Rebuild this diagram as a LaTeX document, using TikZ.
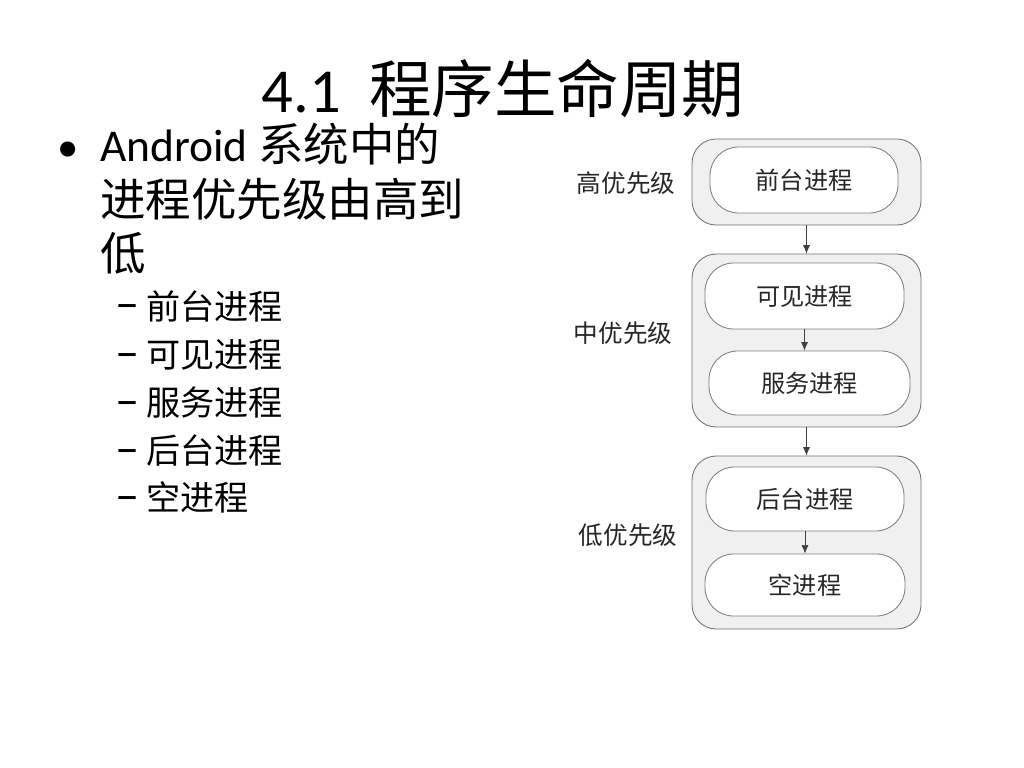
\documentclass[tikz,border=0pt]{standalone}
\usepackage{fontspec}
\setmainfont{Carlito}
\newfontfamily\cjk{Noto Sans CJK SC}
\usetikzlibrary{arrows.meta}
\begin{document}
\begin{tikzpicture}[x=0.703125pt,y=-0.703125pt,
  outerbox/.style={draw=black!55,fill=black!6,line width=0.6pt,rounded corners=17pt,minimum width=161pt,inner sep=0pt},
  innerbox/.style={draw=black!50,fill=white,line width=0.6pt,rounded corners=20pt,inner sep=0pt,font=\cjk\fontsize{17}{20}\selectfont,text=black!85},
  lvl/.style={font=\cjk\fontsize{17.3}{20}\selectfont,text=black!85},
  flow/.style={draw=black!75,line width=0.5pt,-{Latex[length=6pt,width=5pt]}},
  maintext/.style={anchor=base west,inner sep=0pt,font=\fontsize{32}{38.4}\selectfont},
  subtext/.style={anchor=base west,inner sep=0pt,font=\fontsize{28}{33.6}\selectfont},
  dashmark/.style={anchor=base west,inner sep=0pt,font=\fontsize{34}{40}\selectfont},
  title/.style={anchor=base,inner sep=0pt,font=\fontsize{44}{52.8}\selectfont}]
\useasboundingbox[fill=white] (0,0) rectangle (1024,768);
% title
\node[title] (t) at (503,113) {4.1\ \ {\cjk 程序生命周期}};
% bullets
\node[anchor=base,inner sep=0pt,font=\fontsize{30}{36}\selectfont] (b1) at (68,162) {•};
\node[maintext] (l1) at (100,162) {Android {\cjk 系统中的}};
\node[maintext] (l2) at (100,217) {\cjk 进程优先级由高到};
\node[maintext] (l3) at (100,271) {\cjk 低};
\node[dashmark] (d1) at (115,320) {–};
\node[subtext] (s1) at (146,319) {\cjk\fontsize{24}{28}\selectfont 前台进程};
\node[dashmark] (d2) at (115,368) {–};
\node[subtext] (s2) at (146,367) {\cjk\fontsize{24}{28}\selectfont 可见进程};
\node[dashmark] (d3) at (115,416) {–};
\node[subtext] (s3) at (146,415) {\cjk\fontsize{24}{28}\selectfont 服务进程};
\node[dashmark] (d4) at (115,464) {–};
\node[subtext] (s4) at (146,463) {\cjk\fontsize{24}{28}\selectfont 后台进程};
\node[dashmark] (d5) at (115,511) {–};
\node[subtext] (s5) at (146,510) {\cjk\fontsize{24}{28}\selectfont 空进程};
% diagram
\node[outerbox,minimum height=60.5pt] (o1) at (806.5,182) {};
\node[outerbox,minimum height=121.6pt] (o2) at (806.5,340.5) {};
\node[outerbox,minimum height=121.6pt] (o3) at (806.5,542.5) {};
\node[innerbox,minimum width=132.2pt,minimum height=46.4pt] (p1) at (804,180) {前台进程};
\node[innerbox,minimum width=139.9pt,minimum height=46.4pt] (p2) at (804.5,296) {可见进程};
\node[innerbox,minimum width=141.3pt,minimum height=45pt] (p3) at (809.5,383) {服务进程};
\node[innerbox,minimum width=139.2pt,minimum height=45pt] (p4) at (805,499) {后台进程};
\node[innerbox,minimum width=140.6pt,minimum height=43.6pt] (p5) at (805,585) {空进程};
\node[lvl] (h) at (626,183) {高优先级};
\node[lvl] (m) at (623,333) {中优先级};
\node[lvl] (lo) at (628,535) {低优先级};
\draw[flow] (o1.south) -- (o2.north);
\draw[flow] (o2.south) -- (o3.north);
\draw[flow] (p2.south) -- (p2.south |- p3.north);
\draw[flow] (p4.south) -- (p4.south |- p5.north);
\end{tikzpicture}
\end{document}
